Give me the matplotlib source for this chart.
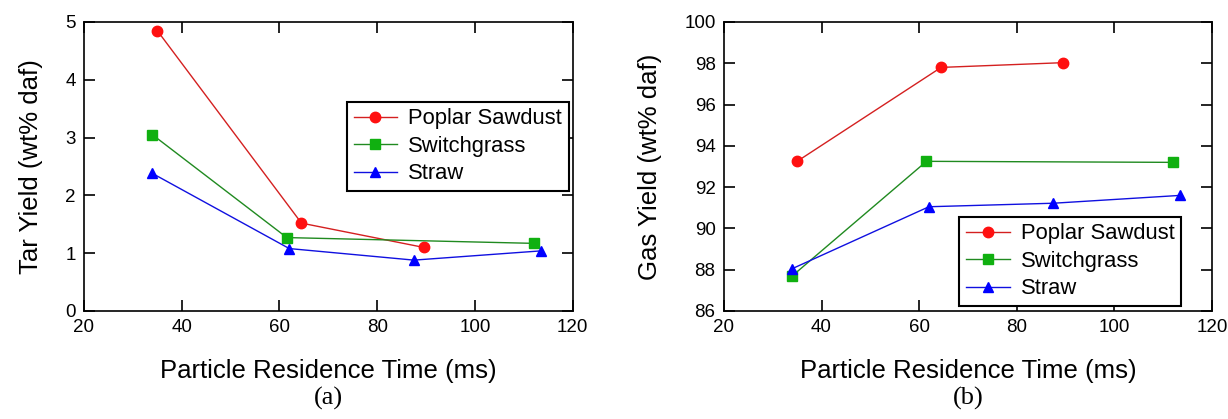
import matplotlib.pyplot as plt

# residence times (ms) and yields
poplar_t = [35, 64.5, 89.5]
switch_t = [34, 61.5, 112]
straw_t = [34, 62, 87.5, 113.5]

poplar_tar = [4.85, 1.52, 1.10]
switch_tar = [3.05, 1.27, 1.17]
straw_tar = [2.38, 1.08, 0.88, 1.04]

poplar_gas = [93.25, 97.8, 98.03]
switch_gas = [87.7, 93.25, 93.2]
straw_gas = [88.05, 91.05, 91.22, 91.6]

names = ['Poplar Sawdust', 'Switchgrass', 'Straw']

plt.rcParams['font.family'] = ['Liberation Sans', 'DejaVu Sans']

fig = plt.figure(figsize=(12.28, 4.19), dpi=100)
ax1 = fig.add_axes([0.0684, 0.2578, 0.398, 0.6897])
ax2 = fig.add_axes([0.5895, 0.2578, 0.3975, 0.6897])


def draw(ax, ys, ylim, yticks, ylabel, legpos, tag):
    ax.plot(poplar_t, ys[0], '-o', color='#d42020', mfc='#ff1010', mec='#ff1010',
            ms=7.5, lw=1, label=names[0])
    ax.plot(switch_t, ys[1], '-s', color='#208a20', mfc='#10b010', mec='#10b010',
            ms=7.5, lw=1, label=names[1])
    ax.plot(straw_t, ys[2], '-^', color='#1010e0', mfc='#0000ff', mec='#0000ff',
            ms=7.5, lw=1, label=names[2])
    ax.set_xlim(20, 120)
    ax.set_ylim(*ylim)
    ax.set_xticks([20, 40, 60, 80, 100, 120])
    ax.set_yticks(yticks)
    ax.tick_params(direction='in', length=8, width=1.2, top=True, right=True,
                   labelsize=13.5, pad=6)
    for s in ax.spines.values():
        s.set_linewidth(1.2)
    ax.set_xlabel('Particle Residence Time (ms)', fontsize=18.5, labelpad=16)
    ax.set_ylabel(ylabel, fontsize=18.5, labelpad=16)
    leg = ax.legend(loc='lower left', bbox_to_anchor=legpos, borderaxespad=0,
                    fontsize=15.8, fancybox=False, framealpha=1,
                    edgecolor='black', handlelength=2.0, borderpad=0.3,
                    labelspacing=0.3, handletextpad=0.5)
    leg.get_frame().set_linewidth(1.5)
    ax.text(0.5, -0.262, tag, transform=ax.transAxes, ha='center', va='top',
            fontsize=19, family='Liberation Serif')


draw(ax1, [poplar_tar, switch_tar, straw_tar], (0, 5), [0, 1, 2, 3, 4, 5],
     'Tar Yield (wt% daf)', (0.538, 0.415), '(a)')
draw(ax2, [poplar_gas, switch_gas, straw_gas], (86, 100),
     [86, 88, 90, 92, 94, 96, 98, 100], 'Gas Yield (wt% daf)',
     (0.4825, 0.017), '(b)')

plt.savefig('out.png', dpi=100)
